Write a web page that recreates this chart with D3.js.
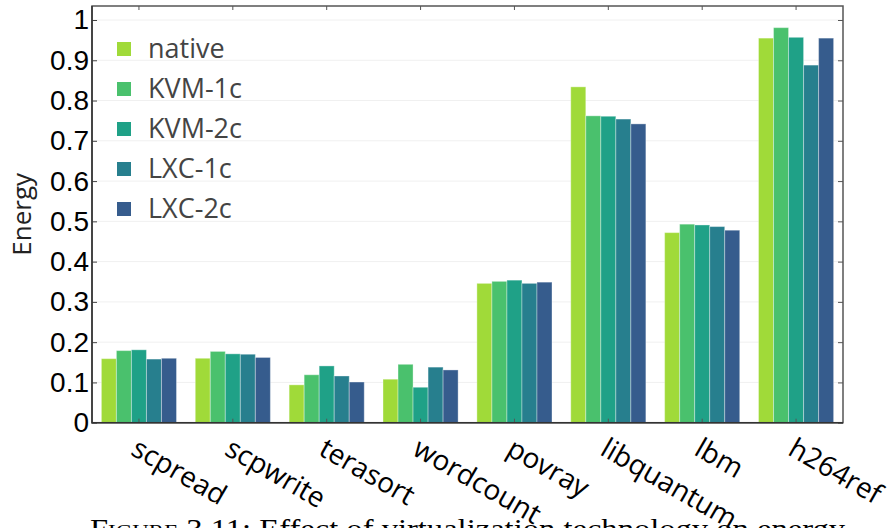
<!DOCTYPE html>
<html>
<head>
<meta charset="utf-8">
<script src="https://cdn.jsdelivr.net/npm/d3@7"></script>
<style>
  body { margin: 0; background: #fff; }
  svg { display: block; font-family: "Open Sans", "Noto Sans", sans-serif; }
</style>
</head>
<body>
<svg id="chart" width="889" height="528"></svg>
<script>
// benchmarks and normalized energy per configuration
const benchmarks = ["scpread", "scpwrite", "terasort", "wordcount", "povray", "libquantum", "lbm", "h264ref"];
const configs = ["native", "KVM-1c", "KVM-2c", "LXC-1c", "LXC-2c"];
const colors = ["#a0da39", "#4ac16d", "#1fa187", "#277f8e", "#365c8d"];
const native = [0.159, 0.160, 0.094, 0.108, 0.346, 0.834, 0.472, 0.955];
const kvm1c = [0.179, 0.177, 0.119, 0.145, 0.351, 0.762, 0.493, 0.981];
const kvm2c = [0.181, 0.171, 0.141, 0.088, 0.354, 0.761, 0.491, 0.957];
const lxc1c = [0.158, 0.170, 0.116, 0.138, 0.346, 0.754, 0.487, 0.888];
const lxc2c = [0.160, 0.162, 0.101, 0.131, 0.349, 0.742, 0.478, 0.955];
const yTicks = [0, 0.1, 0.2, 0.3, 0.4, 0.5, 0.6, 0.7, 0.8, 0.9, 1];
const captionHead = "Figure";
const captionBody = " 3.11: Effect of virtualization technology on energy";

const series = [native, kvm1c, kvm2c, lxc1c, lxc2c];

const svg = d3.select("#chart");
const pLeft = 92, pRight = 843, pTop = 6, pBottom = 422.7;

const x = d3.scaleBand().domain(benchmarks).range([pLeft, pRight]).paddingInner(0).paddingOuter(0);
const xInner = d3.scaleBand().domain(configs)
  .range([x.bandwidth() * 0.1, x.bandwidth() * 0.9]);
const y = d3.scaleLinear().domain([0, (pBottom - pTop) / 402.7]).range([pBottom, pTop]);

// grid lines
svg.append("g")
  .selectAll("line")
  .data(yTicks)
  .enter()
  .append("line")
  .attr("x1", pLeft)
  .attr("x2", pRight)
  .attr("y1", (d) => y(d))
  .attr("y2", (d) => y(d))
  .attr("stroke", "#f0f0f0")
  .attr("stroke-width", 1);

// bars
const groups = svg.append("g")
  .selectAll("g")
  .data(benchmarks)
  .enter()
  .append("g")
  .attr("transform", (d) => `translate(${x(d)},0)`);

groups.selectAll("rect")
  .data((d, i) => configs.map((c, j) => ({ config: c, value: series[j][i], color: colors[j] })))
  .enter()
  .append("rect")
  .attr("x", (d) => xInner(d.config))
  .attr("width", xInner.bandwidth())
  .attr("y", (d) => y(d.value))
  .attr("height", (d) => y(0) - y(d.value))
  .attr("fill", (d) => d.color)
  .attr("stroke", "rgba(255,255,255,0.35)")
  .attr("stroke-width", 1);

// axes (ticks inward)
const yAxis = d3.axisLeft(y).tickValues(yTicks).tickSize(-5).tickPadding(3)
  .tickFormat((d) => (d === 0 || d === 1 ? d3.format("d")(d) : d3.format(".1f")(d)));
const gy = svg.append("g").attr("transform", `translate(${pLeft},0)`).call(yAxis);
gy.select(".domain").remove();
gy.selectAll("line").attr("stroke", "#444");
gy.selectAll("text").attr("font-size", 28).attr("fill", "#000");

const gyr = svg.append("g").attr("transform", `translate(${pRight},0)`)
  .call(d3.axisRight(y).tickValues(yTicks).tickSize(-5).tickFormat(""));
gyr.select(".domain").remove();
gyr.selectAll("line").attr("stroke", "#555");

const gx = svg.append("g").attr("transform", `translate(0,${pBottom})`)
  .call(d3.axisBottom(x).tickSize(-4).tickFormat(""));
gx.select(".domain").remove();
gx.selectAll("line").attr("stroke", "#555");

const gxt = svg.append("g").attr("transform", `translate(0,${pTop})`)
  .call(d3.axisTop(x).tickSize(-4).tickFormat(""));
gxt.select(".domain").remove();
gxt.selectAll("line").attr("stroke", "#555");

// frame
svg.append("rect")
  .attr("x", pLeft)
  .attr("y", pTop)
  .attr("width", pRight - pLeft)
  .attr("height", pBottom - pTop)
  .attr("fill", "none")
  .attr("stroke", "#555")
  .attr("stroke-width", 1.5);
svg.append("path")
  .attr("d", `M${pLeft},${pTop}V${pBottom}H${pRight}`)
  .attr("fill", "none")
  .attr("stroke", "#333")
  .attr("stroke-width", 1.5);

// x labels
svg.append("g")
  .selectAll("text")
  .data(benchmarks)
  .enter()
  .append("text")
  .attr("transform", (d) => `translate(${x(d) + x.bandwidth() / 2 + 1},${pBottom + 13}) rotate(30)`)
  .attr("dy", "0.75em")
  .attr("font-size", 28)
  .attr("fill", "#000")
  .text((d) => d);

// y label
svg.append("text")
  .attr("transform", `translate(31,${(pTop + pBottom) / 2}) rotate(-90)`)
  .attr("text-anchor", "middle")
  .attr("font-size", 26)
  .attr("fill", "#222")
  .text("Energy");

// legend
const legend = svg.append("g")
  .selectAll("g")
  .data(configs)
  .enter()
  .append("g")
  .attr("transform", (d, i) => `translate(117,${49 + i * 40})`);
legend.append("rect")
  .attr("y", -7)
  .attr("width", 14)
  .attr("height", 14)
  .attr("fill", (d, i) => colors[i]);
legend.append("text")
  .attr("x", 31)
  .attr("dy", "0.35em")
  .attr("font-size", 27)
  .attr("fill", "#444")
  .text((d) => d);

// caption
const cap = svg.append("text")
  .attr("x", 90)
  .attr("y", 538)
  .attr("font-family", "'Liberation Serif', 'DejaVu Serif', serif")
  .attr("font-size", 27)
  .attr("fill", "#000")
  .attr("textLength", 755)
  .attr("lengthAdjust", "spacingAndGlyphs");
cap.append("tspan").attr("font-variant", "small-caps").text(captionHead);
cap.append("tspan").text(captionBody);
</script>
</body>
</html>
